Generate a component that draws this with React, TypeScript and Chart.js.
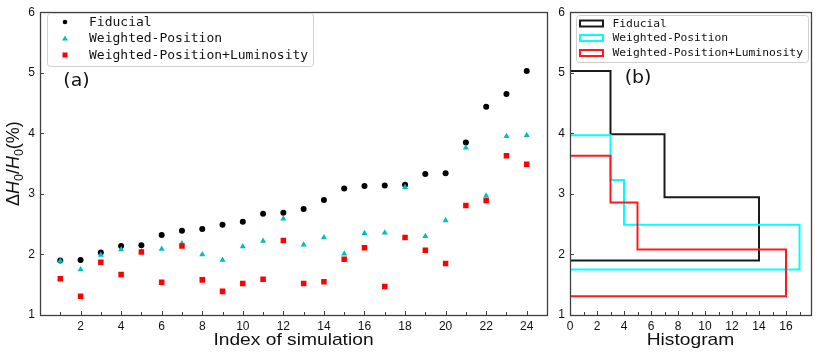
import React, { useEffect, useRef } from 'react';
import { Chart, registerables } from 'chart.js';

Chart.register(...registerables);

// ---------------- data ----------------
const simIndex = [1, 2, 3, 4, 5, 6, 7, 8, 9, 10, 11, 12, 13, 14, 15, 16, 17, 18, 19, 20, 21, 22, 23, 24];
const fiducial = [1.90, 1.91, 2.03, 2.14, 2.15, 2.32, 2.39, 2.42, 2.49, 2.54, 2.67, 2.69, 2.75, 2.90, 3.09, 3.13, 3.14, 3.15, 3.33, 3.34, 3.85, 4.44, 4.65, 5.03];
const weightedPos = [1.89, 1.75, 1.99, 2.08, 2.05, 2.09, 2.18, 2.00, 1.91, 2.13, 2.22, 2.59, 2.16, 2.28, 2.01, 2.35, 2.36, 3.11, 2.30, 2.56, 3.76, 2.97, 3.95, 3.97];
const weightedPosLum = [1.60, 1.31, 1.87, 1.67, 2.04, 1.54, 2.14, 1.58, 1.39, 1.52, 1.59, 2.23, 1.52, 1.55, 1.92, 2.11, 1.47, 2.28, 2.07, 1.85, 2.81, 2.89, 3.63, 3.49];
const seriesLabels = ['Fiducial', 'Weighted-Position', 'Weighted-Position+Luminosity'];
const histBins = 3;
const yRange = [1, 6];
const xRangeLeft = [0, 25];
const xRangeRight = [0, 17.85];

// ---------------- style ----------------
const markerColors = ['#000000', '#00BFBF', '#FF0000'];
const histColors = ['#1a1a1a', '#00FFFF', '#FF1a1a'];
const frameColor = '#404040';
const tickFont = { family: 'Liberation Sans, Arial, sans-serif', size: 12 };
const W = 817;
const H = 354;
const LEFT_W = 556;

function stepHist(values: number[], bins: number) {
  const lo = Math.min(...values);
  const hi = Math.max(...values);
  const w = (hi - lo) / bins;
  const counts = new Array(bins).fill(0);
  values.forEach((v) => {
    let i = Math.floor((v - lo) / w);
    if (i >= bins) i = bins - 1;
    if (i < 0) i = 0;
    counts[i]++;
  });
  const pts: { x: number; y: number }[] = [{ x: 0, y: lo }];
  for (let i = 0; i < bins; i++) {
    pts.push({ x: counts[i], y: lo + i * w });
    pts.push({ x: counts[i], y: i === bins - 1 ? hi : lo + (i + 1) * w });
  }
  pts.push({ x: 0, y: hi });
  return pts;
}

function drawFrameAndTicks(chart: any) {
  const ctx = chart.ctx as CanvasRenderingContext2D;
  const a = chart.chartArea;
  const xs = chart.scales.x;
  const ys = chart.scales.y;
  ctx.save();
  ctx.strokeStyle = frameColor;
  ctx.lineWidth = 1;
  ctx.beginPath();
  for (let v = Math.ceil(xs.min); v <= Math.floor(xs.max); v++) {
    const px = Math.round(xs.getPixelForValue(v)) + 0.5;
    if (px <= a.left + 1 || px >= a.right - 1) continue;
    const len = v % 2 === 0 ? 4 : 3;
    ctx.moveTo(px, a.bottom);
    ctx.lineTo(px, a.bottom - len);
  }
  for (let v = Math.ceil(ys.min); v <= Math.floor(ys.max); v++) {
    const py = Math.round(ys.getPixelForValue(v)) + 0.5;
    if (py <= a.top + 1 || py >= a.bottom - 1) continue;
    ctx.moveTo(a.left, py);
    ctx.lineTo(a.left + 4, py);
  }
  ctx.stroke();
  ctx.lineWidth = 1.3;
  ctx.strokeRect(Math.round(a.left) + 0.5, Math.round(a.top) + 0.5, Math.round(a.right - a.left), Math.round(a.bottom - a.top));
  ctx.restore();
}

function stretchedText(ctx: CanvasRenderingContext2D, text: string, x: number, y: number, font: string, sx: number) {
  ctx.save();
  ctx.font = font;
  ctx.fillStyle = '#111';
  ctx.textAlign = 'center';
  ctx.textBaseline = 'alphabetic';
  ctx.translate(x, y);
  ctx.scale(sx, 1);
  ctx.fillText(text, 0, 0);
  ctx.restore();
}

function drawYTitle(ctx: CanvasRenderingContext2D, cx: number, cy: number) {
  const base = '18px "Liberation Sans", Arial, sans-serif';
  const ital = 'italic 18px "Liberation Sans", Arial, sans-serif';
  const sub = '12.5px "Liberation Sans", Arial, sans-serif';
  const parts = [
    { t: '\u0394', f: base, dy: 0 },
    { t: 'H', f: ital, dy: 0 },
    { t: '0', f: sub, dy: 3.5 },
    { t: '/', f: base, dy: 0 },
    { t: 'H', f: ital, dy: 0 },
    { t: '0', f: sub, dy: 3.5 },
    { t: '(%)', f: base, dy: 0 },
  ];
  ctx.save();
  let total = 0;
  const widths = parts.map((p) => {
    ctx.font = p.f;
    const w = ctx.measureText(p.t).width;
    total += w;
    return w;
  });
  ctx.translate(cx, cy);
  ctx.rotate(-Math.PI / 2);
  ctx.fillStyle = '#111';
  ctx.textBaseline = 'alphabetic';
  ctx.textAlign = 'left';
  let x = -total / 2;
  parts.forEach((p, i) => {
    ctx.font = p.f;
    ctx.fillText(p.t, x, p.dy);
    x += widths[i];
  });
  ctx.restore();
}

const leftDecor = {
  id: 'leftDecor',
  afterDraw(chart: any) {
    const ctx = chart.ctx as CanvasRenderingContext2D;
    drawFrameAndTicks(chart);
    ctx.save();
    ctx.beginPath();
    (ctx as any).roundRect(47.5, 13.5, 266, 53, 3);
    ctx.fillStyle = 'rgba(255,255,255,0.85)';
    ctx.fill();
    ctx.strokeStyle = '#d0d0d0';
    ctx.lineWidth = 1;
    ctx.stroke();
    const rows = [22, 38.5, 55];
    ctx.font = '13px "DejaVu Sans Mono", monospace';
    ctx.textBaseline = 'middle';
    ctx.textAlign = 'left';
    rows.forEach((ry, i) => {
      const mx = 65;
      ctx.fillStyle = markerColors[i];
      ctx.beginPath();
      if (i === 0) ctx.arc(mx, ry, 2.3, 0, Math.PI * 2);
      else if (i === 1) {
        ctx.moveTo(mx, ry - 3);
        ctx.lineTo(mx + 3, ry + 2);
        ctx.lineTo(mx - 3, ry + 2);
        ctx.closePath();
      } else ctx.rect(mx - 2.5, ry - 2.5, 5, 5);
      ctx.fill();
      ctx.fillStyle = '#111';
      ctx.fillText(seriesLabels[i], 89, ry + 0.5);
    });
    ctx.restore();
    stretchedText(ctx, '(a)', 76.5, 86, '18px "DejaVu Sans", sans-serif', 1.05);
    const a = chart.chartArea;
    stretchedText(ctx, 'Index of simulation', (a.left + a.right) / 2, 345, '17px "Liberation Sans", Arial, sans-serif', 1.13);
    drawYTitle(ctx, 19, (a.top + a.bottom) / 2);
  },
};

const rightDecor = {
  id: 'rightDecor',
  afterDraw(chart: any) {
    const ctx = chart.ctx as CanvasRenderingContext2D;
    drawFrameAndTicks(chart);
    const off = -LEFT_W;
    ctx.save();
    ctx.beginPath();
    (ctx as any).roundRect(576.5 + off, 15.5, 232, 47, 3);
    ctx.fillStyle = 'rgba(255,255,255,0.85)';
    ctx.fill();
    ctx.strokeStyle = '#d0d0d0';
    ctx.lineWidth = 1;
    ctx.stroke();
    const rows = [23.5, 38, 53];
    ctx.font = '11.3px "DejaVu Sans Mono", monospace';
    ctx.textBaseline = 'middle';
    ctx.textAlign = 'left';
    rows.forEach((ry, i) => {
      ctx.strokeStyle = histColors[i];
      ctx.lineWidth = 2;
      ctx.fillStyle = '#fff';
      ctx.fillRect(580 + off, ry - 3, 23, 6);
      ctx.strokeRect(580 + off, ry - 3, 23, 6);
      ctx.fillStyle = '#111';
      ctx.fillText(seriesLabels[i], 612.5 + off, ry + 0.5);
    });
    ctx.restore();
    stretchedText(ctx, '(b)', 638 + off, 83, '18px "DejaVu Sans", sans-serif', 1.05);
    const a = chart.chartArea;
    stretchedText(ctx, 'Histogram', (a.left + a.right) / 2, 345, '17px "Liberation Sans", Arial, sans-serif', 1.13);
  },
};

function baseScales(xr: number[], xLabel: (v: number) => string, yWidth: number) {
  return {
    x: {
      type: 'linear' as const,
      min: xr[0],
      max: xr[1],
      grid: { display: false, drawTicks: false },
      border: { display: false },
      ticks: {
        stepSize: 1,
        autoSkip: false,
        maxRotation: 0,
        padding: 4,
        color: '#111',
        font: tickFont,
        callback: (v: any) => xLabel(Number(v)),
      },
      afterFit: (s: any) => {
        s.height = 39;
      },
    },
    y: {
      type: 'linear' as const,
      min: yRange[0],
      max: yRange[1],
      grid: { display: false, drawTicks: false },
      border: { display: false },
      ticks: {
        stepSize: 1,
        padding: 5,
        color: '#111',
        font: tickFont,
        callback: (v: any) => (Number.isInteger(Number(v)) ? String(v) : ''),
      },
      afterFit: (s: any) => {
        s.width = yWidth;
      },
    },
  };
}

export default function App() {
  const leftRef = useRef<HTMLCanvasElement | null>(null);
  const rightRef = useRef<HTMLCanvasElement | null>(null);

  useEffect(() => {
    const series = [fiducial, weightedPos, weightedPosLum];
    const styles = ['circle', 'triangle', 'rect'];
    const radii = [3.0, 3.5, 3.9];
    const left = new Chart(leftRef.current as HTMLCanvasElement, {
      type: 'scatter',
      data: {
        datasets: series.map((vals, i) => ({
          label: seriesLabels[i],
          data: simIndex.map((x, j) => ({ x, y: vals[j] })),
          pointStyle: styles[i] as any,
          pointRadius: radii[i],
          pointBorderWidth: 0,
          backgroundColor: markerColors[i],
          borderColor: markerColors[i],
          order: 2 - i,
        })),
      },
      options: {
        animation: false,
        responsive: false,
        events: [],
        layout: { padding: { top: 9, right: LEFT_W - 547, left: 0, bottom: 0 } },
        plugins: { legend: { display: false }, tooltip: { enabled: false } },
        scales: baseScales(
          xRangeLeft,
          (v) => (Number.isInteger(v) && v % 2 === 0 && v > 0 && v < 25 ? String(v) : ''),
          40
        ) as any,
      },
      plugins: [leftDecor],
    });

    const right = new Chart(rightRef.current as HTMLCanvasElement, {
      type: 'scatter',
      data: {
        datasets: series.map((vals, i) => ({
          label: seriesLabels[i],
          data: stepHist(vals, histBins),
          showLine: true,
          pointRadius: 0,
          borderWidth: 2,
          borderColor: histColors[i],
          backgroundColor: histColors[i],
          fill: false,
          order: 2 - i,
        })),
      },
      options: {
        animation: false,
        responsive: false,
        events: [],
        layout: { padding: { top: 9, right: W - 811, left: 0, bottom: 0 } },
        plugins: { legend: { display: false }, tooltip: { enabled: false } },
        scales: baseScales(
          xRangeRight,
          (v) => (Number.isInteger(v) && v % 2 === 0 && v <= 16 ? String(v) : ''),
          570 - LEFT_W
        ) as any,
      },
      plugins: [rightDecor],
    });

    return () => {
      left.destroy();
      right.destroy();
    };
  }, []);

  return (
    <div style={{ position: 'fixed', left: 0, top: 0, width: W, height: H, background: '#fff' }}>
      <canvas
        ref={leftRef}
        width={LEFT_W}
        height={H}
        style={{ position: 'absolute', left: 0, top: 0, width: LEFT_W, height: H }}
      />
      <canvas
        ref={rightRef}
        width={W - LEFT_W}
        height={H}
        style={{ position: 'absolute', left: LEFT_W, top: 0, width: W - LEFT_W, height: H }}
      />
    </div>
  );
}
